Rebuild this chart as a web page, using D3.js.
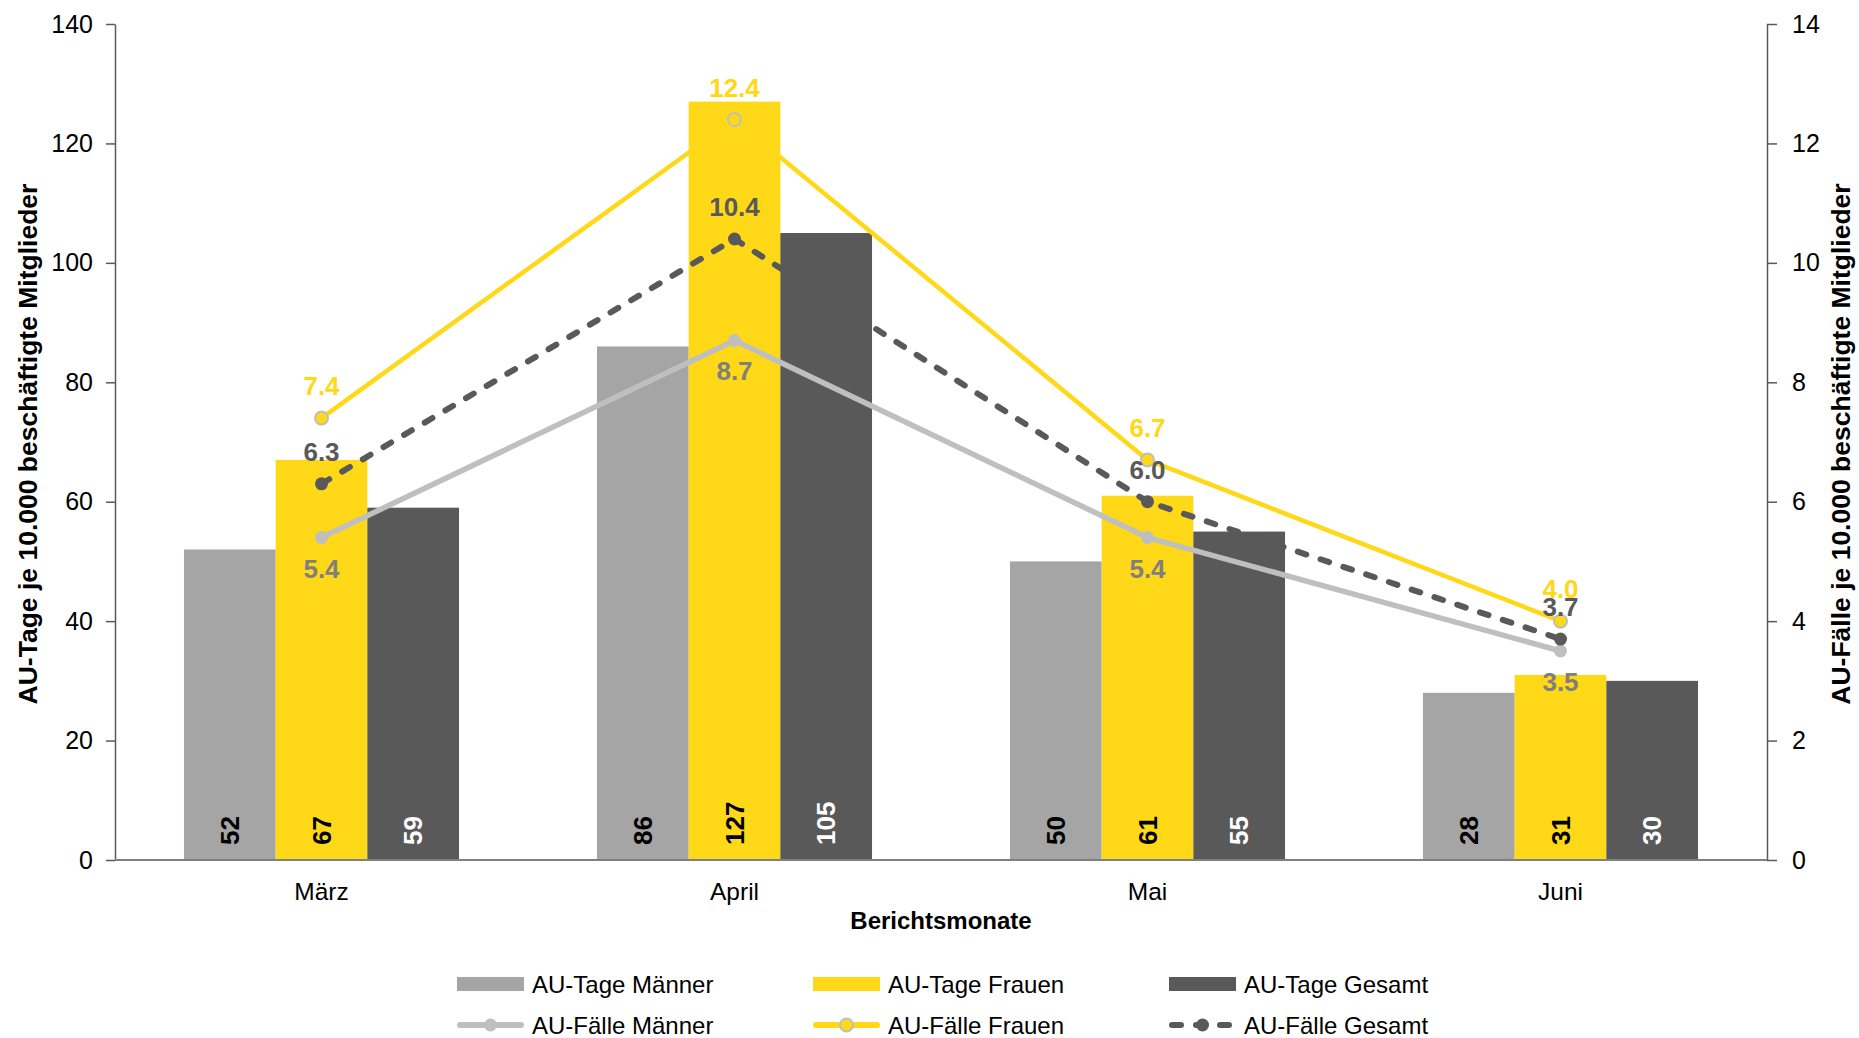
<!DOCTYPE html>
<html>
<head>
<meta charset="utf-8">
<script src="https://cdn.jsdelivr.net/npm/d3@7"></script>
<style>
  html, body { margin: 0; padding: 0; background: #fff; }
  svg { display: block; font-family: "Liberation Sans", Arial, Helvetica, sans-serif; }
</style>
</head>
<body>
<svg id="chart" width="1859" height="1038"></svg>
<script>
// Monthly categories
const months = ["März", "April", "Mai", "Juni"];

// AU-Tage je 10.000 beschäftigte Mitglieder (bars, left axis)
const tageMaenner = [52, 86, 50, 28];
const tageFrauen  = [67, 127, 61, 31];
const tageGesamt  = [59, 105, 55, 30];

// AU-Fälle je 10.000 beschäftigte Mitglieder (lines, right axis)
const faelleMaenner = [5.4, 8.7, 5.4, 3.5];
const faelleFrauen  = [7.4, 12.4, 6.7, 4.0];
const faelleGesamt  = [6.3, 10.4, 6.0, 3.7];

// Axis ticks
const leftTicks  = [0, 20, 40, 60, 80, 100, 120, 140];
const rightTicks = [0, 2, 4, 6, 8, 10, 12, 14];

const C = {
  grey: "#A5A5A5",
  yellow: "#FFD817",
  dark: "#595959",
  lightLine: "#BFBFBF",
  greyLabel: "#7F7F7F"
};

const barSeries = [
  { key: "AU-Tage Männer", values: tageMaenner, fill: C.grey,   text: "#000" },
  { key: "AU-Tage Frauen", values: tageFrauen,  fill: C.yellow, text: "#000" },
  { key: "AU-Tage Gesamt", values: tageGesamt,  fill: C.dark,   text: "#fff" }
];

const lineSeries = [
  { key: "AU-Fälle Männer", values: faelleMaenner, stroke: C.lightLine, width: 5.5, dash: null,
    markerFill: C.lightLine, markerStroke: "none", label: C.greyLabel, below: true },
  { key: "AU-Fälle Gesamt", values: faelleGesamt, stroke: C.dark, width: 6, dash: "9,15",
    markerFill: C.dark, markerStroke: "none", label: C.dark, below: false },
  { key: "AU-Fälle Frauen", values: faelleFrauen, stroke: C.yellow, width: 4.5, dash: null,
    markerFill: C.yellow, markerStroke: C.lightLine, label: C.yellow, below: false }
];

const svg = d3.select("#chart");
const plotLeft = 115, plotRight = 1767, plotTop = 24, plotBottom = 860;

const x0 = d3.scaleBand().domain(months).range([plotLeft, plotRight])
  .paddingInner(0.334).paddingOuter(0.167);
const x1 = d3.scaleBand().domain(barSeries.map(d => d.key)).range([0, x0.bandwidth()]);
const yL = d3.scaleLinear().domain([0, 140]).range([plotBottom, plotTop]);
const yR = d3.scaleLinear().domain([0, 14]).range([plotBottom, plotTop]);

// Bars
const groups = svg.append("g").selectAll("g")
  .data(months).join("g")
  .attr("transform", d => `translate(${x0(d)},0)`);

groups.each(function(m, i) {
  const g = d3.select(this);
  barSeries.forEach(s => {
    g.append("rect")
      .attr("x", x1(s.key))
      .attr("y", yL(s.values[i]))
      .attr("width", x1.bandwidth())
      .attr("height", yL(0) - yL(s.values[i]))
      .attr("fill", s.fill);
    const bx = x1(s.key) + x1.bandwidth() / 2;
    g.append("text")
      .attr("transform", `translate(${bx},${yL(0) - 15}) rotate(-90)`)
      .attr("text-anchor", "start")
      .attr("dominant-baseline", "central")
      .attr("font-size", 26)
      .attr("font-weight", "bold")
      .attr("fill", s.text)
      .text(s.values[i]);
  });
});

// Axes
const axL = svg.append("g").attr("transform", `translate(${plotLeft},0)`)
  .call(d3.axisLeft(yL).tickValues(leftTicks).tickSize(9).tickSizeOuter(0).tickPadding(13));
const axR = svg.append("g").attr("transform", `translate(${plotRight},0)`)
  .call(d3.axisRight(yR).tickValues(rightTicks).tickSize(10).tickSizeOuter(0).tickPadding(15));
[axL, axR].forEach(ax => {
  ax.select(".domain").attr("stroke", "#595959").attr("stroke-width", 1.5);
  ax.selectAll(".tick line").attr("stroke", "#595959").attr("stroke-width", 1.5);
  ax.selectAll(".tick text").attr("font-size", 25).attr("fill", "#000")
    .attr("font-family", "\"Liberation Sans\", Arial, sans-serif");
});

const axB = svg.append("g").attr("transform", `translate(0,${plotBottom})`)
  .call(d3.axisBottom(x0).tickSize(0).tickPadding(23));
axB.select(".domain").attr("stroke", "#808080").attr("stroke-width", 2)
  .attr("d", `M${plotLeft},0H${plotRight}`);
axB.selectAll(".tick text").attr("font-size", 24.5).attr("fill", "#000")
  .attr("font-family", "\"Liberation Sans\", Arial, sans-serif");

// Axis titles
svg.append("text")
  .attr("x", (plotLeft + plotRight) / 2).attr("y", 929)
  .attr("text-anchor", "middle").attr("font-size", 24).attr("font-weight", "bold")
  .text("Berichtsmonate");
svg.append("text")
  .attr("transform", `translate(37,${(plotTop + plotBottom) / 2 + 2}) rotate(-90)`)
  .attr("text-anchor", "middle").attr("font-size", 26.5).attr("font-weight", "bold")
  .text("AU-Tage je 10.000 beschäftigte Mitglieder");
svg.append("text")
  .attr("transform", `translate(1850,${(plotTop + plotBottom) / 2 + 2}) rotate(-90)`)
  .attr("text-anchor", "middle").attr("font-size", 26.5).attr("font-weight", "bold")
  .text("AU-Fälle je 10.000 beschäftigte Mitglieder");

// Lines with markers
const cx = m => x0(m) + x0.bandwidth() / 2;
const lineGen = d3.line().x((d, i) => cx(months[i])).y(d => yR(d));

lineSeries.forEach(s => {
  svg.append("path")
    .attr("d", lineGen(s.values))
    .attr("fill", "none")
    .attr("stroke", s.stroke)
    .attr("stroke-width", s.width)
    .attr("stroke-linecap", "round")
    .attr("stroke-linejoin", "round")
    .attr("stroke-dasharray", s.dash);
  s.values.forEach((v, i) => {
    svg.append("circle")
      .attr("cx", cx(months[i])).attr("cy", yR(v))
      .attr("r", 6.5)
      .attr("fill", s.markerFill)
      .attr("stroke", s.markerStroke)
      .attr("stroke-width", 2);
  });
});

// Value labels drawn above everything
lineSeries.forEach(s => {
  s.values.forEach((v, i) => {
    svg.append("text")
      .attr("x", cx(months[i]))
      .attr("y", yR(v) + (s.below ? 31 : -32))
      .attr("text-anchor", "middle")
      .attr("dominant-baseline", "central")
      .attr("font-size", 26)
      .attr("font-weight", "bold")
      .attr("fill", s.label)
      .text(v.toFixed(1));
  });
});

// Legend
const legendCols = [457, 813, 1169];
const row1 = 984, row2 = 1025;
barSeries.forEach((s, i) => {
  const lx = legendCols[i];
  svg.append("rect").attr("x", lx).attr("y", row1 - 7).attr("width", 67).attr("height", 14)
    .attr("fill", s.fill);
  svg.append("text").attr("x", lx + 75).attr("y", row1).attr("dominant-baseline", "central")
    .attr("font-size", 24).attr("fill", "#000").text(s.key);
});
const legendLines = [lineSeries[0], lineSeries[2], lineSeries[1]];
legendLines.forEach((s, i) => {
  const lx = legendCols[i];
  svg.append("line").attr("x1", lx + 3).attr("x2", lx + 64).attr("y1", row2).attr("y2", row2)
    .attr("stroke", s.stroke).attr("stroke-width", 6).attr("stroke-linecap", "round")
    .attr("stroke-dasharray", s.dash ? "9,15" : null);
  svg.append("circle").attr("cx", lx + 33.5).attr("cy", row2).attr("r", 6.5)
    .attr("fill", s.markerFill).attr("stroke", s.markerStroke).attr("stroke-width", 2);
  svg.append("text").attr("x", lx + 75).attr("y", row2).attr("dominant-baseline", "central")
    .attr("font-size", 24).attr("fill", "#000").text(s.key);
});
</script>
</body>
</html>
